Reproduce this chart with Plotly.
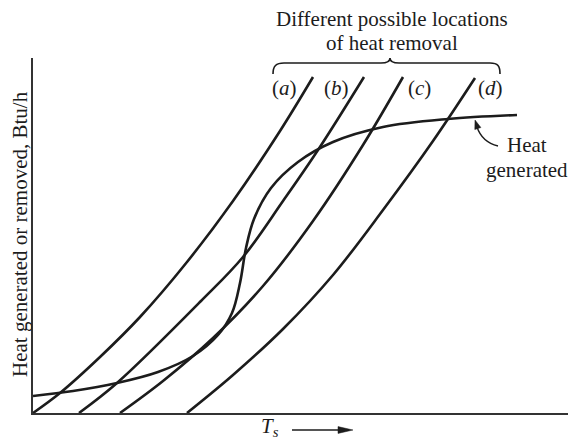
import math
import plotly.graph_objects as go

# ---- data (schematic units) ----
a_x = [0, 27, 67, 107, 154, 200, 247, 280]
a_y = [0, 20, 56, 96, 151, 212, 282, 336]
b_x = [46, 84, 168, 210, 250, 285, 331]
b_y = [0, 30, 112, 156, 212, 263, 336]
c_x = [87, 130, 180, 230, 280, 330, 370]
c_y = [0, 32, 75, 127, 192, 268, 336]
d_x = [154, 200, 250, 300, 350, 400, 442]
d_y = [0, 38, 84, 138, 203, 272, 335]
gen_x = [0, 40, 84, 125, 160, 185, 199, 207, 213, 221, 238, 265, 300, 350, 415, 484]
gen_y = [17, 22, 30, 41, 57, 78, 100, 130, 165, 194, 225, 251, 271, 286, 294, 298]

curve_labels = ["(<i>a</i>)", "(<i>b</i>)", "(<i>c</i>)", "(<i>d</i>)"]
label_x = [251, 303, 386, 457]
label_y = [325, 325, 325, 325]

W, H = 568, 442
L, R, T, B = 33, 0, 58, 29
PW, PH = W - L - R, H - T - B
FONT = "Liberation Serif, Times New Roman, serif"
INK = "#1c1c1c"


def pp(px, py):
    """pixel position -> paper coordinates (decorations only)"""
    return (px - L) / PW, (H - B - py) / PH


def path(cmds, close=False):
    out = []
    for c in cmds:
        if isinstance(c, str):
            out.append(c)
        else:
            x, y = pp(*c)
            out.append(f"{x:.5f},{y:.5f}")
    s = " ".join(out)
    return s + (" Z" if close else "")


def head(tip, frm, length, half):
    tx, ty = tip
    dx, dy = frm[0] - tx, frm[1] - ty
    n = math.hypot(dx, dy)
    ux, uy = dx / n, dy / n
    bx, by = tx + ux * length, ty + uy * length
    px_, py_ = -uy * half, ux * half
    return path(["M", (tx, ty), "L", (bx + px_, by + py_), "L", (bx - px_, by - py_)], close=True)


fig = go.Figure()
for xs, ys in [(a_x, a_y), (b_x, b_y), (c_x, c_y), (d_x, d_y), (gen_x, gen_y)]:
    fig.add_trace(go.Scatter(x=xs, y=ys, mode="lines",
                             line=dict(color=INK, width=2.6, shape="spline", smoothing=1.0),
                             hoverinfo="skip", showlegend=False))

annotations = []
for t, x, y in zip(curve_labels, label_x, label_y):
    annotations.append(dict(x=x, y=y, xref="x", yref="y", text=t, showarrow=False,
                            font=dict(family=FONT, size=21, color=INK),
                            xanchor="center", yanchor="middle"))

# top caption
for txt, py in [("Different possible locations", 19), ("of heat removal", 43)]:
    x, y = pp(392, py)
    annotations.append(dict(x=x, y=y, xref="paper", yref="paper", text=txt, showarrow=False,
                            font=dict(family=FONT, size=21, color=INK),
                            xanchor="center", yanchor="middle"))

# Heat generated label
for txt, py in [("Heat", 145), ("generated", 170)]:
    x, y = pp(527, py)
    annotations.append(dict(x=x, y=y, xref="paper", yref="paper", text=txt, showarrow=False,
                            font=dict(family=FONT, size=21, color=INK),
                            xanchor="center", yanchor="middle"))

# y-axis title
x, y = pp(20, 234)
annotations.append(dict(x=x, y=y, xref="paper", yref="paper",
                        text="Heat generated or removed, Btu/h", textangle=-90,
                        showarrow=False, font=dict(family=FONT, size=21, color=INK),
                        xanchor="center", yanchor="middle"))

# T_s label
x, y = pp(270, 427)
annotations.append(dict(x=x, y=y, xref="paper", yref="paper", text="<i>T<sub>s</sub></i>",
                        showarrow=False, font=dict(family=FONT, size=21, color=INK),
                        xanchor="center", yanchor="middle"))

shapes = [
    # brace
    dict(type="path", xref="paper", yref="paper", line=dict(color=INK, width=1.6),
         path=path(["M", (273, 74), "C", (273, 66), (276, 63), (284, 63),
                    "L", (381, 63),
                    "C", (387, 63), (390, 61), (390, 58),
                    "C", (390, 61), (393, 63), (399, 63),
                    "L", (490, 63),
                    "C", (498, 63), (500, 66), (500, 74)])),
    # curved pointer to heat generated curve
    dict(type="path", xref="paper", yref="paper", line=dict(color=INK, width=1.4),
         path=path(["M", (498, 146), "Q", (482, 142), (477, 127)])),
    dict(type="path", xref="paper", yref="paper", line=dict(color=INK, width=0.5),
         fillcolor=INK, path=head((475, 120), (478, 129), 9, 3.2)),
    # T_s arrow
    dict(type="path", xref="paper", yref="paper", line=dict(color=INK, width=1.5),
         path=path(["M", (292, 430), "L", (342, 430)])),
    dict(type="path", xref="paper", yref="paper", line=dict(color=INK, width=0.5),
         fillcolor=INK, path=head((353, 430), (300, 430), 15, 3.4)),
]

fig.update_layout(
    width=W, height=H,
    margin=dict(l=L, r=R, t=T, b=B, pad=0),
    paper_bgcolor="white", plot_bgcolor="white",
    showlegend=False,
    xaxis=dict(range=[0, PW], showgrid=False, zeroline=False, showticklabels=False,
               ticks="", showline=True, linecolor="#333333", linewidth=1.5, fixedrange=True),
    yaxis=dict(range=[0, PH], showgrid=False, zeroline=False, showticklabels=False,
               ticks="", showline=True, linecolor="#333333", linewidth=1.5, fixedrange=True),
    annotations=annotations,
    shapes=shapes,
)

fig.write_html(
    "out.html",
    config={"displayModeBar": False},
    post_script="document.body.style.margin='0';"
                "document.documentElement.style.overflow='hidden';"
                "document.body.style.overflow='hidden';",
)
